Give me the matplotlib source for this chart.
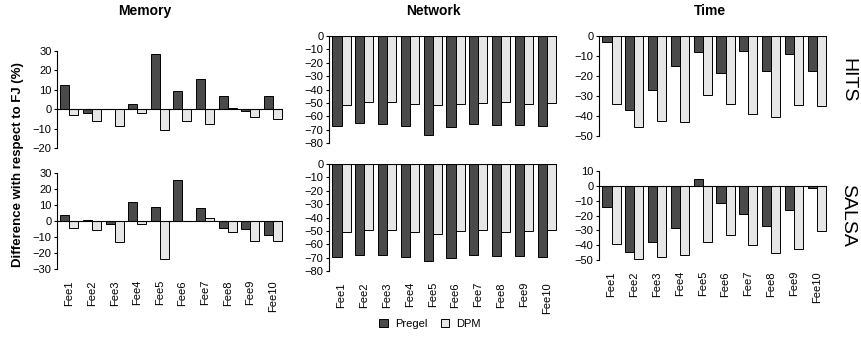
import numpy as np
import matplotlib
matplotlib.use('Agg')
import matplotlib.pyplot as plt
from matplotlib.patches import Patch

plt.rcParams['font.family'] = ['Liberation Sans', 'DejaVu Sans']

fees = ['Fee1', 'Fee2', 'Fee3', 'Fee4', 'Fee5', 'Fee6', 'Fee7', 'Fee8', 'Fee9', 'Fee10']

# Memory
mem_hits_pregel = [12.6, -2.1, 0.0, 2.5, 28.2, 9.3, 15.8, 6.8, -1.0, 6.9]
mem_hits_dpm = [-3.0, -6.3, -8.9, -1.9, -10.5, -6.1, -7.8, 0.4, -4.2, -5.3]
mem_salsa_pregel = [4.0, 0.4, -1.7, 11.7, 8.5, 25.8, 8.3, -4.2, -4.8, -8.5]
mem_salsa_dpm = [-4.2, -5.8, -13.3, -1.7, -23.8, 0.2, 1.7, -6.9, -12.5, -12.3]
# Network
net_hits_pregel = [-67.3, -65.0, -65.8, -67.6, -73.8, -68.3, -65.8, -66.3, -66.6, -67.6]
net_hits_dpm = [-51.6, -49.4, -49.4, -51.1, -51.4, -50.9, -50.4, -49.6, -50.9, -50.4]
net_salsa_pregel = [-69.8, -68.3, -67.8, -69.8, -72.6, -70.3, -68.3, -68.6, -69.1, -69.6]
net_salsa_dpm = [-50.9, -49.6, -49.6, -51.1, -52.1, -50.1, -49.6, -50.9, -50.1, -49.6]
# Time
time_hits_pregel = [-3.2, -37.2, -27.2, -15.1, -8.1, -18.4, -7.6, -17.6, -8.8, -17.3]
time_hits_dpm = [-34.0, -45.7, -42.7, -43.0, -29.7, -34.0, -39.0, -40.4, -34.6, -35.0]
time_salsa_pregel = [-14.0, -44.4, -37.9, -28.3, 4.6, -11.7, -19.3, -26.9, -16.0, -1.6]
time_salsa_dpm = [-39.5, -49.5, -48.2, -46.8, -38.1, -33.0, -40.1, -45.0, -42.8, -30.5]

W, H = 861, 338
fig = plt.figure(figsize=(W / 100, H / 100), dpi=100)

def px_axes(x0, x1, ytop, ybot):
    return fig.add_axes([x0 / W, 1 - ybot / H, (x1 - x0) / W, (ybot - ytop) / H])

c_pregel = '#4a4a4a'
c_dpm = '#e6e6e6'

def panel(ax, pregel, dpm, ylim, step, show_x):
    x = np.arange(len(fees))
    w = 0.4
    ax.bar(x - w / 2, pregel, w, color=c_pregel, edgecolor='black', linewidth=0.7)
    ax.bar(x + w / 2, dpm, w, color=c_dpm, edgecolor='black', linewidth=0.7)
    ax.axhline(0, color='black', linewidth=0.8, zorder=3)
    ax.set_xlim(-0.55, 9.45)
    ax.set_ylim(*ylim)
    ticks = np.arange(ylim[0], ylim[1] + 1, step)
    ax.set_yticks(ticks)
    ax.set_yticklabels([str(v).replace('-', '\u2212') for v in ticks])
    for s in ['top', 'right', 'bottom']:
        ax.spines[s].set_visible(False)
    ax.spines['left'].set_linewidth(0.8)
    ax.tick_params(axis='y', labelsize=8, length=2.5, width=0.8, pad=1.5)
    ax.set_xticks(x)
    if show_x:
        ax.set_xticklabels(fees, rotation=90, fontsize=8)
        ax.tick_params(axis='x', length=0, pad=8)
    else:
        ax.set_xticklabels([])
        ax.tick_params(axis='x', length=0)

ax = px_axes(57, 283, 51, 148)
panel(ax, mem_hits_pregel, mem_hits_dpm, (-20, 30), 10, False)
ax = px_axes(57, 283, 173, 269)
panel(ax, mem_salsa_pregel, mem_salsa_dpm, (-30, 30), 10, True)
ax = px_axes(329, 557, 36, 143)
panel(ax, net_hits_pregel, net_hits_dpm, (-80, 0), 10, False)
ax = px_axes(329, 557, 164, 271)
panel(ax, net_salsa_pregel, net_salsa_dpm, (-80, 0), 10, True)
ax = px_axes(599, 827, 36, 136)
panel(ax, time_hits_pregel, time_hits_dpm, (-50, 0), 10, False)
ax = px_axes(599, 827, 171, 260)
panel(ax, time_salsa_pregel, time_salsa_dpm, (-50, 10), 10, True)

fig.text(145 / W, 1 - 11 / H, 'Memory', ha='center', va='center', fontsize=10, fontweight='bold')
fig.text(433 / W, 1 - 11 / H, 'Network', ha='center', va='center', fontsize=10, fontweight='bold')
fig.text(710 / W, 1 - 11 / H, 'Time', ha='center', va='center', fontsize=10, fontweight='bold')
fig.text(848 / W, 1 - 80 / H, 'HITS', ha='center', va='center', fontsize=14, rotation=-90)
fig.text(848 / W, 1 - 215 / H, 'SALSA', ha='center', va='center', fontsize=14, rotation=-90)
fig.text(18 / W, 1 - 165 / H, 'Difference with respect to FJ (%)', ha='center', va='center',
         fontsize=9.5, fontweight='bold', rotation=90)

handles = [Patch(facecolor=c_pregel, edgecolor='black', linewidth=0.7, label='Pregel'),
           Patch(facecolor=c_dpm, edgecolor='black', linewidth=0.7, label='DPM')]
fig.legend(handles=handles, loc='center', bbox_to_anchor=(430 / W, 1 - 324 / H), ncol=2,
           frameon=False, fontsize=8, handlelength=0.8, handleheight=0.8, columnspacing=1.2,
           handletextpad=0.6)

fig.savefig('out.png', dpi=100)
